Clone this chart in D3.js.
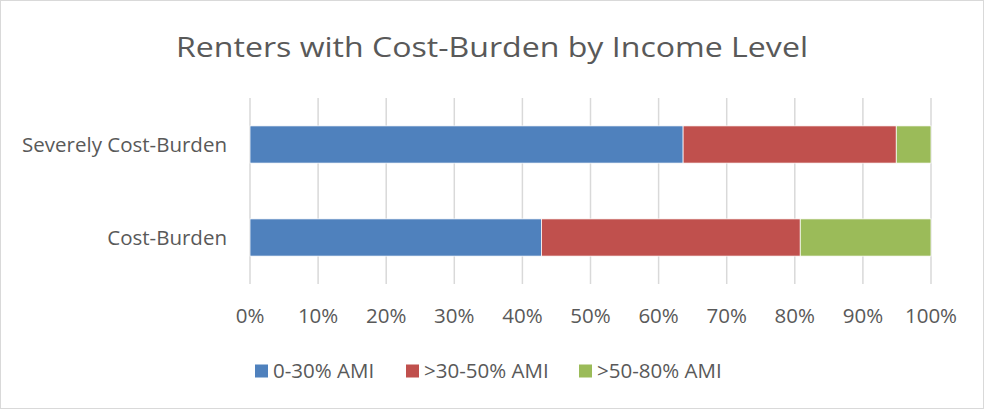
<!DOCTYPE html>
<html>
<head>
<meta charset="utf-8">
<script src="https://cdn.jsdelivr.net/npm/d3@7"></script>
<style>
  body { margin: 0; background: #fff; }
  text { font-family: "Open Sans", "Noto Sans", sans-serif; fill: #595959; }
</style>
</head>
<body>
<div id="chart"></div>
<script>
const width = 985
const height = 410

const categories = ["Severely Cost-Burden", "Cost-Burden"]
const seriesNames = [
  "0-30% AMI",
  ">30-50% AMI",
  ">50-80% AMI"
]
const low = [0.636, 0.428]
const mid = [0.313, 0.380]
const high = [0.051, 0.192]
const tickValues = [0, 0.1, 0.2, 0.3, 0.4, 0.5, 0.6, 0.7, 0.8, 0.9, 1.0]
const colors = ["#4F81BD", "#C0504D", "#9BBB59"]

const svg = d3.select("#chart")
  .append("svg")
  .attr("width", width)
  .attr("height", height)

// chart frame
svg.append("rect")
  .attr("x", 0.5).attr("y", 0.5)
  .attr("width", width - 2).attr("height", height - 2)
  .attr("fill", "white")
  .attr("stroke", "#d9d9d9")

svg.append("text")
  .attr("x", 492)
  .attr("y", 57)
  .attr("text-anchor", "middle")
  .attr("font-size", "28px")
  .attr("textLength", 632)
  .attr("lengthAdjust", "spacingAndGlyphs")
  .text("Renters with Cost-Burden by Income Level")

const x = d3.scaleLinear().domain([0, 1]).range([250, 931])
const y = d3.scaleBand().domain(categories).range([98, 284]).paddingInner(0.6).paddingOuter(0.3)

// gridlines
svg.append("g")
  .selectAll("line")
  .data(tickValues)
  .join("line")
    .attr("x1", d => x(d)).attr("x2", d => x(d))
    .attr("y1", 98).attr("y2", 284)
    .attr("stroke", "#d9d9d9")
    .attr("stroke-width", 1.5)

// stacked bars
const rows = categories.map((c, i) => ({cat: c, s0: low[i], s1: mid[i], s2: high[i]}))
const stack = d3.stack().keys(["s0", "s1", "s2"])(rows)

svg.append("g")
  .selectAll("g")
  .data(stack)
  .join("g")
    .attr("fill", (d, i) => colors[i])
  .selectAll("rect")
  .data(d => d)
  .join("rect")
    .attr("x", d => x(d[0]))
    .attr("width", d => x(d[1]) - x(d[0]))
    .attr("y", d => y(d.data.cat))
    .attr("height", y.bandwidth())
    .attr("stroke", "white")
    .attr("stroke-width", 0.75)

// category labels
svg.append("g")
  .selectAll("text")
  .data(categories)
  .join("text")
    .attr("x", 227)
    .attr("y", d => y(d) + y.bandwidth() / 2)
    .attr("dy", "0.35em")
    .attr("text-anchor", "end")
    .attr("font-size", "20.5px")
    .text(d => d)

// x axis tick labels
svg.append("g")
  .selectAll("text")
  .data(tickValues)
  .join("text")
    .attr("x", d => x(d))
    .attr("y", 323)
    .attr("text-anchor", "middle")
    .attr("font-size", "20.5px")
    .text(d => d3.format(".0%")(d))

// legend
const legendX = [255, 406, 579]
const legend = svg.append("g")
  .selectAll("g")
  .data(seriesNames)
  .join("g")
    .attr("transform", (d, i) => `translate(${legendX[i]},371)`)

legend.append("rect")
  .attr("x", 0).attr("y", -6.5)
  .attr("width", 13).attr("height", 13)
  .attr("fill", (d, i) => colors[i])

legend.append("text")
  .attr("x", 18)
  .attr("dy", "0.35em")
  .attr("font-size", "20.5px")
  .text(d => d)
</script>
</body>
</html>
